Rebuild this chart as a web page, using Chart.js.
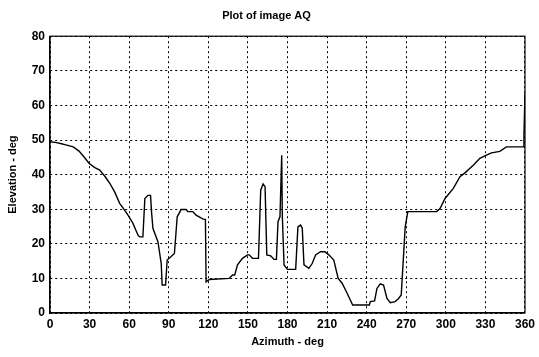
<!DOCTYPE html>
<html>
<head>
<meta charset="utf-8">
<script src="https://cdn.jsdelivr.net/npm/chart.js@4.4.1/dist/chart.umd.min.js"></script>
<style>
  html, body { margin: 0; padding: 0; background: #fff; }
  #wrap { width: 539px; height: 357px; }
</style>
</head>
<body>
<div id="wrap"><canvas id="plot" width="539" height="357"></canvas></div>
<script>
// values
const azimuth = [0, 4, 8, 12, 17.6, 22, 26, 29.7, 34, 37.7, 42, 45.3, 49, 52.8, 56, 59.1, 62.9, 65, 66.7, 68,
  70.4, 71.9, 74.2, 76.2, 77, 78, 81.8, 84.3, 85, 87.6, 88.8, 91.8, 94.3, 96.4, 99.4, 103.1, 104.4, 108.2, 110.7, 115.7,
  117.8, 118.3, 120.8, 135.8, 138.4, 140, 142.1, 145.9, 149.7, 151, 153.5, 158, 159.7, 161.5, 163, 164.3, 167.3, 169.8, 171.6, 172.8,
  174.3, 175.6, 176.1, 177.4, 179.9, 186.2, 187.9, 189.9, 191.2, 192.5, 196.2, 198.7, 201.3, 205, 208.3, 211.3, 215.1, 218.4, 221.4, 225.2,
  229.4, 242, 242.8, 246, 247.8, 250.3, 252.8, 255.4, 257.9, 261.6, 264.2, 266.2, 267.9, 269.2, 271.2, 293.1, 295.6, 299.4, 305.7, 310.7,
  314.5, 320.8, 325.8, 330.8, 334.6, 340.9, 345.9, 358.5, 359.2, 360];
const elevation = [49.5, 49.3, 49, 48.6, 48, 46.8, 45, 43.2, 42, 41.3, 39.3, 37.5, 35, 31.7, 30, 28.3, 25.9, 24, 22.5, 22,
  22, 33.1, 34, 34, 29, 24.5, 20.6, 14.3, 8.1, 8.1, 15.3, 16.3, 17.2, 27.8, 29.9, 29.9, 29.3, 29.3, 28.3, 27.2,
  27, 9, 9.7, 10, 11, 11, 13.9, 15.8, 16.8, 16.8, 15.8, 15.8, 35.5, 37.3, 36.5, 16.8, 16.5, 15.5, 15.5, 26.4,
  27.8, 45.6, 27.8, 13.9, 12.6, 12.6, 24.9, 25.4, 24.5, 13.9, 12.9, 14.3, 16.8, 17.7, 17.7, 16.8, 15.3, 10, 8.6, 5.7,
  2.3, 2.3, 3.3, 3.5, 7.1, 8.4, 8.1, 4.2, 3.0, 3.3, 4.2, 5.2, 16.3, 24.9, 29.3, 29.3, 30.2, 33.1, 36, 39.4,
  40.5, 42.7, 44.7, 45.6, 46.3, 46.7, 48, 48, 51.4, 63.4];

const xTicks = [0, 30, 60, 90, 120, 150, 180, 210, 240, 270, 300, 330, 360];
const yTicks = [0, 10, 20, 30, 40, 50, 60, 70, 80];

const points = azimuth.map((a, i) => ({ x: a, y: elevation[i] }));

const fontFamily = '"Liberation Sans", Arial, sans-serif';

// solid frame round the plot area (the grid lines themselves are dotted)
const frameBox = {
    id: 'frameBox',
    afterDraw(chart) {
        const { ctx, chartArea } = chart;
        ctx.save();
        ctx.strokeStyle = '#000';
        ctx.lineWidth = 1.2;
        ctx.setLineDash([]);
        ctx.strokeRect(chartArea.left, chartArea.top, chartArea.right - chartArea.left, chartArea.bottom - chartArea.top);
        ctx.restore();
    }
};

const gridStyle = {
    color: '#000',
    lineWidth: 1,
    drawTicks: false
};

// in v4 border.dash is what dashes the grid lines
const borderStyle = { display: true, color: '#000', width: 1.2, dash: [2, 3] };

new Chart(document.getElementById('plot'), {
    type: 'line',
    data: {
        datasets: [{
            data: points,
            borderColor: '#000',
            borderWidth: 1.4,
            pointRadius: 0,
            tension: 0,
            fill: false
        }]
    },
    options: {
        responsive: false,
        animation: false,
        layout: { padding: { left: 6, right: 12, top: 0, bottom: 8 } },
        plugins: {
            legend: { display: false },
            tooltip: { enabled: false },
            title: {
                display: true,
                text: 'Plot of image AQ',
                color: '#000',
                font: { family: fontFamily, size: 11, weight: 'bold' },
                padding: { top: 9, bottom: 14 }
            }
        },
        scales: {
            x: {
                type: 'linear',
                min: 0,
                max: 360,
                afterBuildTicks: (axis) => { axis.ticks = xTicks.map(v => ({ value: v })); },
                afterFit: (axis) => { axis.height = 36; },
                grid: gridStyle,
                border: borderStyle,
                ticks: {
                    color: '#000',
                    padding: 4,
                    maxRotation: 0,
                    font: { family: fontFamily, size: 12, weight: 'bold' }
                },
                title: {
                    display: true,
                    text: 'Azimuth - deg',
                    color: '#000',
                    padding: { top: 3, bottom: 0 },
                    font: { family: fontFamily, size: 11, weight: 'bold' }
                }
            },
            y: {
                min: 0,
                max: 80,
                afterBuildTicks: (axis) => { axis.ticks = yTicks.map(v => ({ value: v })); },
                afterFit: (axis) => { axis.width = 44; },
                grid: gridStyle,
                border: borderStyle,
                ticks: {
                    color: '#000',
                    padding: 5,
                    font: { family: fontFamily, size: 12, weight: 'bold' }
                },
                title: {
                    display: true,
                    text: 'Elevation - deg',
                    color: '#000',
                    padding: { top: 0, bottom: 2 },
                    font: { family: fontFamily, size: 11, weight: 'bold' }
                }
            }
        }
    },
    plugins: [frameBox]
});
</script>
</body>
</html>
